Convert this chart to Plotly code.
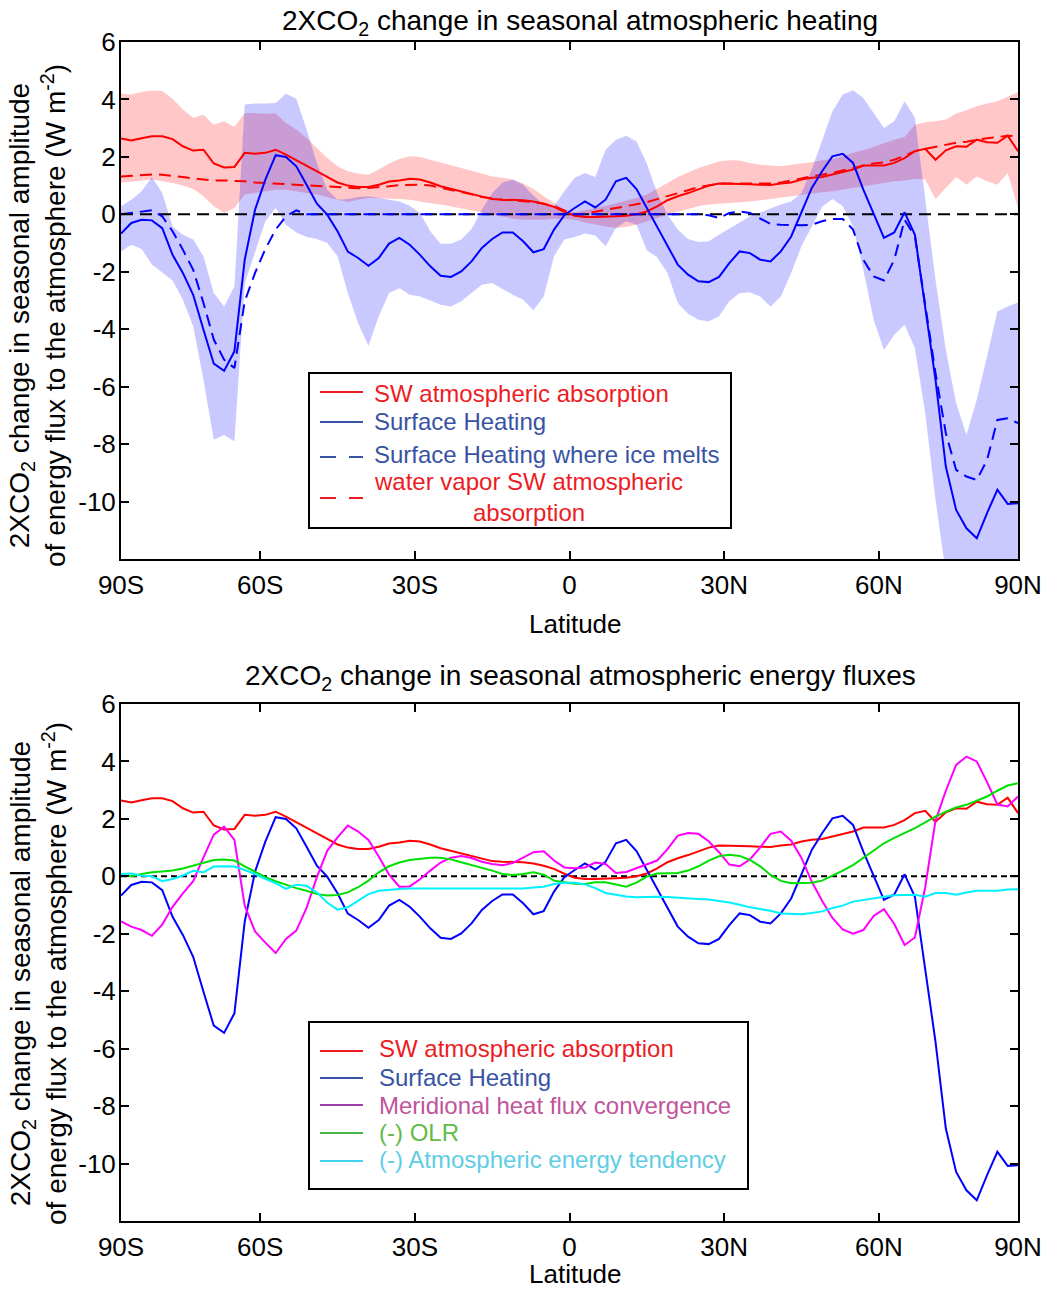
import plotly.graph_objects as go

# latitude grid (deg), values at odd latitudes
LAT = list(range(-87, 88, 2))

# SW atmospheric absorption (red solid, both panels)
SW_ABS = [2.64, 2.57, 2.65, 2.72, 2.72, 2.62, 2.37, 2.22, 2.25, 1.77, 1.63, 1.65, 2.14, 2.11, 2.14,
          2.25, 2.08, 1.88, 1.70, 1.50, 1.30, 1.11, 1.00, 0.95, 0.95, 1.03, 1.14, 1.18, 1.24, 1.21,
          1.11, 0.98, 0.89, 0.78, 0.71, 0.60, 0.53, 0.51, 0.50, 0.49, 0.45, 0.37, 0.26, 0.09,
          -0.05, -0.09, -0.09, -0.09, -0.07, -0.05, 0.00, 0.10, 0.28, 0.49, 0.63, 0.74, 0.88, 1.00,
          1.07, 1.07, 1.07, 1.05, 1.03, 1.02, 1.07, 1.11, 1.21, 1.27, 1.30, 1.38, 1.46, 1.56, 1.70,
          1.70, 1.70, 1.79, 1.96, 2.20, 2.28, 1.90, 2.23, 2.37, 2.35, 2.60, 2.51, 2.49, 2.74, 2.20]
SW_HI = [4.20, 4.17, 4.26, 4.31, 4.29, 4.02, 3.65, 3.36, 3.47, 3.12, 3.24, 3.04, 3.53, 3.51, 3.51,
         3.51, 3.18, 2.95, 2.66, 2.31, 1.96, 1.67, 1.50, 1.42, 1.38, 1.56, 1.77, 1.93, 2.02, 2.00,
         1.90, 1.79, 1.70, 1.61, 1.52, 1.42, 1.32, 1.27, 1.21, 1.07, 0.88, 0.63, 0.39, 0.16,
         0.07, 0.14, 0.22, 0.30, 0.39, 0.48, 0.57, 0.69, 0.88, 1.09, 1.30, 1.46, 1.61, 1.73, 1.84,
         1.88, 1.87, 1.79, 1.73, 1.70, 1.67, 1.73, 1.77, 1.81, 1.88, 1.93, 2.02, 2.14, 2.23, 2.35,
         2.46, 2.60, 2.69, 3.12, 3.21, 3.24, 3.30, 3.51, 3.62, 3.76, 3.86, 3.94, 4.09, 4.25]
SW_LO = [1.11, 1.15, 1.18, 1.21, 1.15, 1.09, 1.00, 0.88, 0.63, 0.28, 0.05, 0.22, 0.69, 0.74, 0.80,
         0.86, 0.86, 0.80, 0.74, 0.69, 0.60, 0.51, 0.43, 0.51, 0.57, 0.57, 0.55, 0.53, 0.51, 0.45,
         0.39, 0.34, 0.28, 0.22, 0.14, 0.07, -0.01, -0.09, -0.15, -0.19, -0.19, -0.19, -0.16, -0.16,
         -0.19, -0.28, -0.36, -0.42, -0.48, -0.44, -0.36, -0.24, -0.13, -0.01, 0.10, 0.19, 0.28,
         0.34, 0.37, 0.39, 0.42, 0.45, 0.49, 0.53, 0.57, 0.63, 0.69, 0.72, 0.77, 0.80, 0.86, 0.92,
         0.98, 1.03, 1.09, 1.15, 1.18, 1.23, 1.21, 0.53, 0.92, 1.30, 1.03, 1.32, 1.15, 1.03, 1.44, 0.22]

# water vapor SW atmospheric absorption (red dashed)
WV_ABS = [1.32, 1.35, 1.38, 1.39, 1.38, 1.35, 1.30, 1.25, 1.21, 1.18, 1.18, 1.17, 1.15, 1.11, 1.09,
          1.08, 1.06, 1.03, 1.02, 1.00, 0.98, 0.95, 0.92, 0.91, 0.92, 0.94, 0.98, 1.02, 1.03, 1.03,
          1.00, 0.93, 0.86, 0.78, 0.70, 0.60, 0.55, 0.51, 0.49, 0.46, 0.43, 0.37, 0.28, 0.14,
          -0.01, 0.02, 0.10, 0.16, 0.22, 0.28, 0.34, 0.42, 0.53, 0.63, 0.72, 0.84, 0.95, 1.02, 1.07,
          1.07, 1.07, 1.05, 1.05, 1.07, 1.11, 1.18, 1.27, 1.32, 1.38, 1.44, 1.53, 1.61, 1.71, 1.77,
          1.81, 1.90, 2.04, 2.20, 2.28, 2.35, 2.42, 2.49, 2.53, 2.60, 2.65, 2.69, 2.74, 2.72]

# surface heating (blue solid, both panels) and its spread
SURF = [-0.67, -0.30, -0.19, -0.21, -0.48, -1.41, -2.04, -2.80, -4.02, -5.20, -5.45, -4.77, -1.58,
        0.16, 1.21, 2.06, 2.00, 1.67, 1.03, 0.37, -0.01, -0.59, -1.30, -1.52, -1.79, -1.52, -1.02,
        -0.82, -1.06, -1.41, -1.81, -2.14, -2.18, -1.99, -1.64, -1.17, -0.86, -0.63, -0.63, -0.94,
        -1.32, -1.21, -0.53, -0.03,
        0.22, 0.45, 0.24, 0.51, 1.15, 1.27, 0.88, 0.22, -0.48, -1.11, -1.75, -2.10, -2.33, -2.36,
        -2.18, -1.70, -1.29, -1.35, -1.58, -1.64, -1.29, -0.77, 0.05, 0.92, 1.50, 2.02, 2.11, 1.79,
        0.86, -0.01, -0.82, -0.63, 0.07, -0.71, -3.21, -5.76, -8.78, -10.29, -10.93, -11.28, -10.40,
        -9.59, -10.08, -10.06]
SURF_HI = [0.28, 0.51, 0.80, 1.30, 0.74, -0.42, -0.71, -0.88, -1.46, -2.74, -3.21, -2.51, 3.82,
           3.86, 3.86, 3.88, 4.20, 4.02, 2.95, 1.79, 0.86, 0.51, 0.53, 0.60, 0.63, 0.57, 0.53, 0.45,
           0.30, 0.05, -0.59, -1.02, -1.02, -0.88, -0.51, 0.16, 0.74, 1.11, 1.21, 1.03, 0.65, 0.34,
           0.28, 0.80,
           1.27, 1.44, 1.30, 2.25, 2.60, 2.74, 2.54, 1.77, 0.74, -0.01, -0.53, -0.86, -0.96, -0.94,
           -0.71, -0.51, -0.28, -0.07, 0.07, 0.22, 0.34, 0.45, 0.74, 1.56, 2.60, 3.59, 4.17, 4.32,
           4.05, 3.55, 3.01, 3.24, 3.94, 3.36, 0.51, -2.28, -4.72, -6.57, -7.68, -6.45, -4.94, -3.38,
           -3.21, -3.07]
SURF_LO = [-1.29, -1.06, -1.21, -1.75, -2.04, -2.30, -2.97, -3.90, -5.76, -7.85, -7.68, -7.91,
           -2.40, -1.35, -0.24, 0.22, -0.36, -0.63, -0.79, -0.86, -1.00, -1.46, -2.74, -3.79, -4.58,
           -3.55, -2.74, -2.57, -2.80, -2.86, -3.00, -3.15, -3.21, -3.03, -2.74, -2.45, -2.39, -2.60,
           -2.80, -2.97, -3.34, -2.86, -1.46, -0.88,
           -0.79, -0.67, -0.74, -1.11, -0.48, -0.24, -0.36, -1.25, -1.49, -2.04, -3.09, -3.46, -3.67,
           -3.73, -3.55, -3.03, -2.74, -2.72, -2.86, -3.21, -2.86, -2.04, -1.11, -0.42, 0.26, 0.53,
           0.28, -0.42, -1.93, -3.67, -4.72, -4.19, -3.84, -4.66, -6.92, -9.94, -12.5, -13.5, -14.0,
           -14.5, -14.0, -13.5, -13.0, -13.0]

# surface heating where ice melts (blue dashed)
ICE = [0.00, 0.05, 0.10, 0.14, -0.07, -0.59, -1.23, -1.93, -3.09, -4.36, -5.06, -5.35, -3.03, -2.04,
       -1.21, -0.53, -0.07, 0.14, 0.0, 0.0, 0.0, 0.0, 0.0, 0.0, 0.0, 0.0, 0.0, 0.0, 0.0, 0.0, 0.0,
       0.0, 0.0, 0.0, 0.0, 0.0, 0.0, 0.0, 0.0, 0.0, 0.0, 0.0, 0.0, 0.0,
       0.0, 0.0, 0.0, 0.0, 0.0, 0.0, 0.0, 0.0, 0.0, 0.0, 0.0, 0.0, 0.0,
       -0.03, -0.13, 0.05, 0.10, 0.05, -0.16, -0.34, -0.36, -0.38, -0.38, -0.36, -0.24, -0.16,
       -0.16, -0.53, -1.58, -2.16, -2.30, -1.58, -0.19, -0.77, -3.09, -5.53, -7.62, -8.90, -9.13,
       -9.25, -8.55, -7.16, -7.10, -7.27]

# bottom panel only
MERID = [-1.57, -1.75, -1.87, -2.07, -1.68, -1.06, -0.59, -0.17, 0.66, 1.45, 1.73, 1.27, -1.02,
         -1.92, -2.31, -2.67, -2.18, -1.89, -1.10, -0.03, 0.89, 1.36, 1.77, 1.56, 1.27, 0.69, 0.06,
         -0.36, -0.35, -0.10, 0.20, 0.48, 0.65, 0.71, 0.64, 0.51, 0.43, 0.39, 0.46, 0.66, 0.84,
         0.87, 0.55, 0.31,
         0.28, 0.31, 0.48, 0.43, 0.12, 0.15, 0.28, 0.43, 0.55, 0.95, 1.42, 1.51, 1.48, 1.22, 0.84,
         0.41, 0.35, 0.59, 1.01, 1.48, 1.56, 1.24, 0.64, -0.19, -0.85, -1.45, -1.85, -2.00, -1.87,
         -1.38, -1.14, -1.66, -2.39, -2.13, -0.38, 1.94, 2.98, 3.88, 4.17, 4.00, 3.28, 2.50, 2.43,
         2.78]
OLR = [0.02, 0.00, 0.08, 0.14, 0.17, 0.20, 0.27, 0.37, 0.46, 0.57, 0.59, 0.55, 0.35, 0.16, -0.03,
       -0.17, -0.30, -0.41, -0.50, -0.62, -0.67, -0.65, -0.56, -0.38, -0.15, 0.14, 0.35, 0.48,
       0.57, 0.62, 0.65, 0.65, 0.59, 0.49, 0.39, 0.31, 0.20, 0.08, 0.05, 0.08, 0.14, 0.06, -0.15,
       -0.21,
       -0.26, -0.27, -0.21, -0.21, -0.29, -0.36, -0.22, -0.01, 0.10, 0.12, 0.12, 0.20, 0.35, 0.55,
       0.70, 0.75, 0.71, 0.57, 0.35, 0.05, -0.16, -0.24, -0.24, -0.22, -0.15, 0.02, 0.20, 0.39,
       0.64, 0.91, 1.15, 1.34, 1.50, 1.68, 1.88, 2.08, 2.25, 2.40, 2.49, 2.64, 2.78, 2.98, 3.16,
       3.24]
TEND = [0.08, 0.10, 0.02, 0.00, -0.17, -0.09, 0.03, 0.19, 0.14, 0.34, 0.35, 0.34, 0.22, 0.08,
        -0.09, -0.24, -0.44, -0.29, -0.33, -0.56, -0.91, -1.16, -1.08, -0.85, -0.62, -0.50, -0.46,
        -0.44, -0.42, -0.42, -0.42, -0.42, -0.42, -0.41, -0.41, -0.42, -0.42, -0.43, -0.42, -0.42,
        -0.39, -0.36, -0.27, -0.22,
        -0.22, -0.28, -0.41, -0.58, -0.64, -0.70, -0.73, -0.71, -0.71, -0.72, -0.75, -0.77, -0.79,
        -0.81, -0.85, -0.91, -0.99, -1.08, -1.14, -1.20, -1.29, -1.31, -1.32, -1.28, -1.22, -1.10,
        -1.02, -0.88, -0.82, -0.75, -0.71, -0.66, -0.64, -0.64, -0.71, -0.58, -0.58, -0.64, -0.56,
        -0.50, -0.50, -0.50, -0.46, -0.45]

XTICKS = [-87, -60, -30, 0, 30, 60, 87]
XTICK_TEXT = ["90S", "60S", "30S", "0", "30N", "60N", "90N"]
YTICKS = [-10, -8, -6, -4, -2, 0, 2, 4, 6]

FONT = "Liberation Sans, Arial, Helvetica, sans-serif"
W, H = 1050, 1290
OFF = 8  # the page body adds an 8 px margin, so lay out everything 8 px up-left
ML, MR, MT, MB = 121 - OFF, 40, 42 - OFF, 77


def px_x(px):
    return (px - OFF - ML) / (W - ML - MR)


def px_y(py):
    return (H - MB - (py - OFF)) / (H - MT - MB)


def line(y, color, xa, ya, dash="solid"):
    return go.Scatter(x=LAT, y=y, mode="lines", line=dict(color=color, width=2, dash=dash),
                      xaxis=xa, yaxis=ya, showlegend=False, hoverinfo="skip")


def band(hi, lo, color):
    return go.Scatter(x=LAT + LAT[::-1], y=hi + lo[::-1], mode="lines", fill="toself",
                      fillcolor=color, line=dict(width=0), xaxis="x", yaxis="y",
                      showlegend=False, hoverinfo="skip")


def zero_line(xa, ya, dash):
    return go.Scatter(x=[LAT[0], LAT[-1]], y=[0, 0], mode="lines",
                      line=dict(color="black", width=2, dash=dash),
                      xaxis=xa, yaxis=ya, showlegend=False, hoverinfo="skip")


fig = go.Figure()

# top panel
fig.add_trace(band(SW_HI, SW_LO, "rgba(255,0,0,0.22)"))
fig.add_trace(band(SURF_HI, SURF_LO, "rgba(0,0,255,0.21)"))
fig.add_trace(zero_line("x", "y", "12px,7px"))
fig.add_trace(line(SW_ABS, "#ff0000", "x", "y"))
fig.add_trace(line(WV_ABS, "#ff0000", "x", "y", "12px,7px"))
fig.add_trace(line(SURF, "#0000ff", "x", "y"))
fig.add_trace(line(ICE, "#0000ff", "x", "y", "12px,7px"))

# bottom panel
fig.add_trace(zero_line("x2", "y2", "6px,4px"))
fig.add_trace(line(SW_ABS, "#ff0000", "x2", "y2"))
fig.add_trace(line(SURF, "#0000ff", "x2", "y2"))
fig.add_trace(line(MERID, "#ff00ff", "x2", "y2"))
fig.add_trace(line(OLR, "#00e000", "x2", "y2"))
fig.add_trace(line(TEND, "#00f0ff", "x2", "y2"))

axis = dict(showline=True, linecolor="black", linewidth=2, mirror="ticks", ticks="inside",
            ticklen=8, tickwidth=2, tickcolor="black", showgrid=False, zeroline=False,
            tickfont=dict(family=FONT, size=26, color="black"))
xaxis = dict(axis, range=[-87, 87], tickmode="array", tickvals=XTICKS, ticktext=XTICK_TEXT,
             ticklabelstandoff=2)
yaxis = dict(axis, range=[-12, 6], tickmode="array", tickvals=YTICKS,
             ticktext=[str(v) for v in YTICKS], ticklabelstandoff=-2)

fig.update_layout(
    width=W, height=H,
    margin=dict(l=ML, r=MR, t=MT, b=MB),
    paper_bgcolor="white", plot_bgcolor="white",
    font=dict(family=FONT, color="black"),
    showlegend=False,
    xaxis=dict(xaxis, domain=[0, 1], anchor="y"),
    yaxis=dict(yaxis, domain=[px_y(559), 1], anchor="x"),
    xaxis2=dict(xaxis, domain=[0, 1], anchor="y2"),
    yaxis2=dict(yaxis, domain=[0, px_y(704)], anchor="x2"),
)

ytitle = ("2XCO<sub>2</sub> change in seasonal amplitude<br>"
          "of energy flux to the atmosphere (W m<sup>-2</sup>)")
texts = [
    ("2XCO<sub>2</sub> change in seasonal atmospheric heating", 580, 23, 28, 0),
    ("2XCO<sub>2</sub> change in seasonal atmospheric energy fluxes", 580, 678, 28, 0),
    ("Latitude", 575, 624, 26, 0),
    ("Latitude", 575, 1274, 26, 0),
    (ytitle, 38, 316, 28, -90),
    (ytitle, 38, 974, 28, -90),
]
for txt, x, y, size, ang in texts:
    fig.add_annotation(text=txt, x=px_x(x), y=px_y(y), xref="paper", yref="paper",
                       xanchor="center", yanchor="middle", showarrow=False, textangle=ang,
                       font=dict(family=FONT, size=size, color="black"))

# legends, drawn by hand as boxes with samples and coloured text
RED_T, BLUE_T = "#ed1c24", "#3953a4"
legends = [
    ((309, 373, 731, 528), 372, [
        ("SW atmospheric absorption", RED_T, RED_T, "solid", 392, 393),
        ("Surface Heating", BLUE_T, BLUE_T, "solid", 422, 421),
        ("Surface Heating where ice melts", BLUE_T, BLUE_T, "16px,13px", 457, 454),
        ("water vapor SW atmospheric<br>absorption", RED_T, RED_T, "16px,13px", 498, 497),
    ]),
    ((309, 1022, 748, 1189), 377, [
        ("SW atmospheric absorption", RED_T, RED_T, "solid", 1051, 1048),
        ("Surface Heating", BLUE_T, BLUE_T, "solid", 1078, 1077),
        ("Meridional heat flux convergence", "#c1549c", "#9e3fa8", "solid", 1105, 1105),
        ("(-) OLR", "#61bb46", "#45b549", "solid", 1133, 1132),
        ("(-) Atmospheric energy tendency", "#5ecde6", "#40d4f0", "solid", 1161, 1159),
    ]),
]
for (x0, y0, x1, y1), tx, items in legends:
    fig.add_shape(type="rect", xref="paper", yref="paper", x0=px_x(x0), x1=px_x(x1),
                  y0=px_y(y1), y1=px_y(y0), line=dict(color="black", width=2),
                  fillcolor="white", layer="above")
    for name, tcol, lcol, dash, ly, ty in items:
        fig.add_shape(type="line", xref="paper", yref="paper", x0=px_x(320), x1=px_x(363),
                      y0=px_y(ly), y1=px_y(ly), line=dict(color=lcol, width=2, dash=dash),
                      layer="above")
        fig.add_annotation(text=name, x=px_x(tx), y=px_y(ty), xref="paper", yref="paper",
                           xanchor="left", yanchor="middle", align="center", showarrow=False,
                           font=dict(family=FONT, size=24, color=tcol))

fig.write_html("out.html")
